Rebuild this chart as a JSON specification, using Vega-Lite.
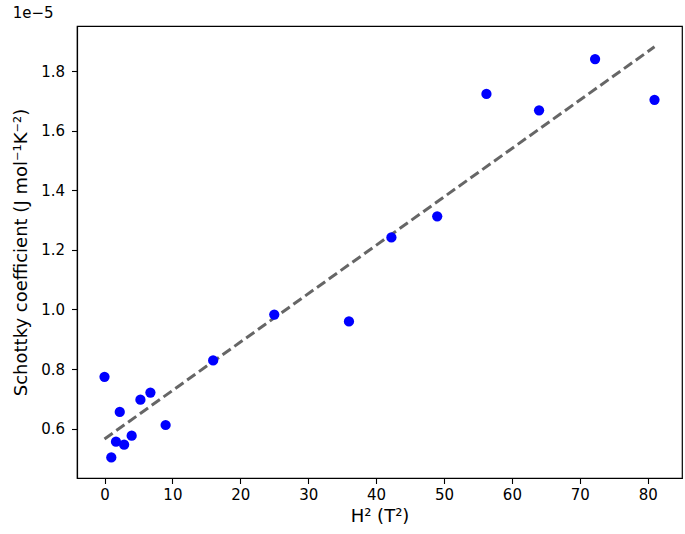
{
  "$schema": "https://vega.github.io/schema/vega-lite/v6.json",
  "autosize": "none",
  "width": 605,
  "height": 452,
  "padding": {"left": 77, "top": 26, "right": 3, "bottom": 56},
  "background": "white",
  "title": {"text": "1e−5", "anchor": "start", "fontSize": 15, "fontWeight": "normal", "font": "DejaVu Sans", "color": "black", "offset": 5},
  "config": {
    "view": {"stroke": "black", "strokeWidth": 1.2},
    "axis": {
      "labelFont": "DejaVu Sans", "labelFontSize": 15, "labelColor": "black",
      "titleFont": "DejaVu Sans", "titleFontSize": 18, "titleFontWeight": "normal", "titleColor": "black",
      "grid": false, "domainColor": "black", "domainWidth": 1.2,
      "tickColor": "black", "tickSize": 5.5, "tickWidth": 1.1, "labelPadding": 4
    }
  },
  "datasets": {
    "points": [
      {"H2": 0, "coef": 7.74e-6},
      {"H2": 1, "coef": 5.03e-6},
      {"H2": 1.69, "coef": 5.56e-6},
      {"H2": 2.25, "coef": 6.56e-6},
      {"H2": 2.89, "coef": 5.46e-6},
      {"H2": 4, "coef": 5.76e-6},
      {"H2": 5.29, "coef": 6.97e-6},
      {"H2": 6.76, "coef": 7.21e-6},
      {"H2": 9, "coef": 6.12e-6},
      {"H2": 16, "coef": 8.29e-6},
      {"H2": 25, "coef": 9.83e-6},
      {"H2": 36, "coef": 9.60e-6},
      {"H2": 42.25, "coef": 1.242e-5},
      {"H2": 49, "coef": 1.313e-5},
      {"H2": 56.25, "coef": 1.724e-5},
      {"H2": 64, "coef": 1.669e-5},
      {"H2": 72.25, "coef": 1.841e-5},
      {"H2": 81, "coef": 1.704e-5}
    ],
    "fit": [
      {"H2": 0, "coef": 5.65e-6},
      {"H2": 81, "coef": 1.882e-5}
    ]
  },
  "layer": [
    {
      "data": {"name": "fit"},
      "mark": {"type": "line", "color": "#666666", "strokeWidth": 3, "strokeDash": [10, 4.5], "clip": true},
      "encoding": {
        "x": {"field": "H2", "type": "quantitative"},
        "y": {"field": "coef", "type": "quantitative"}
      }
    },
    {
      "data": {"name": "points"},
      "mark": {"type": "point", "filled": true, "color": "#0000ff", "opacity": 1, "size": 105},
      "encoding": {
        "x": {
          "field": "H2", "type": "quantitative",
          "scale": {"domain": [-4.05, 85.05], "nice": false, "zero": false},
          "axis": {"title": "H² (T²)", "values": [0, 10, 20, 30, 40, 50, 60, 70, 80], "titlePadding": 5}
        },
        "y": {
          "field": "coef", "type": "quantitative",
          "scale": {"domain": [4.34e-6, 1.952e-5], "nice": false, "zero": false},
          "axis": {
            "title": "Schottky coefficient (J mol⁻¹K⁻²)",
            "values": [6e-6, 8e-6, 1e-5, 1.2e-5, 1.4e-5, 1.6e-5, 1.8e-5],
            "labelExpr": "format(datum.value * 1e5, '.1f')",
            "labelPadding": 7,
            "titlePadding": 10
          }
        }
      }
    }
  ]
}
